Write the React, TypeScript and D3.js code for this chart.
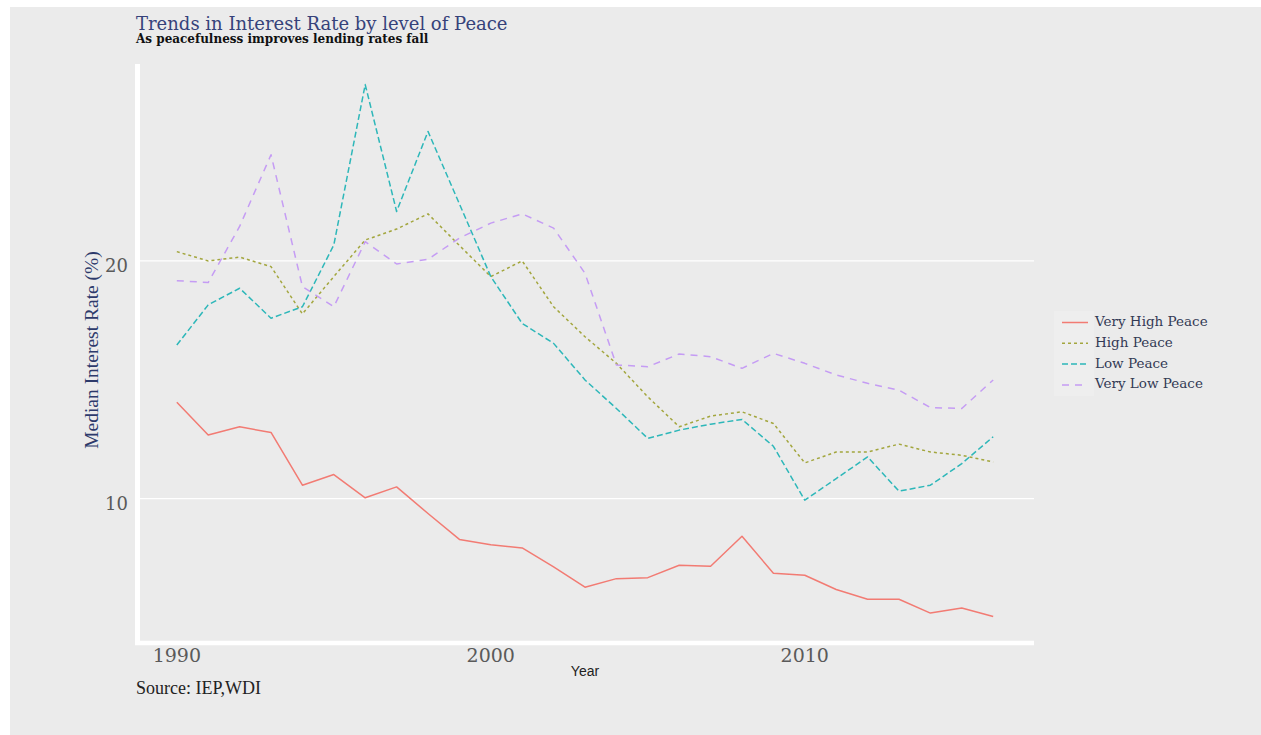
import React from "react";
import * as d3 from "d3";

const years = [1990, 1991, 1992, 1993, 1994, 1995, 1996, 1997, 1998, 1999, 2000, 2001, 2002, 2003, 2004, 2005, 2006, 2007, 2008, 2009, 2010, 2011, 2012, 2013, 2014, 2015, 2016];

const veryHighPeace = [14.05, 12.67, 13.02, 12.78, 10.56, 11.01, 10.03, 10.49, 9.37, 8.28, 8.06, 7.92, 7.12, 6.27, 6.63, 6.67, 7.19, 7.15, 8.41, 6.86, 6.77, 6.17, 5.76, 5.76, 5.18, 5.39, 5.04];
const highPeace = [20.39, 20.0, 20.16, 19.76, 17.77, 19.34, 20.88, 21.34, 21.98, 20.65, 19.34, 20.0, 18.07, 16.81, 15.69, 14.28, 13.02, 13.47, 13.65, 13.16, 11.5, 11.96, 11.96, 12.29, 11.96, 11.82, 11.54];
const lowPeace = [16.46, 18.15, 18.85, 17.59, 18.07, 20.67, 27.42, 22.08, 25.45, 22.4, 19.34, 17.37, 16.53, 14.99, 13.79, 12.53, 12.88, 13.13, 13.33, 12.2, 9.93, 10.84, 11.75, 10.31, 10.56, 11.47, 12.6];
const veryLowPeace = [19.17, 19.09, 21.45, 24.47, 18.92, 18.07, 20.81, 19.87, 20.07, 20.96, 21.59, 21.98, 21.38, 19.48, 15.62, 15.55, 16.08, 15.97, 15.48, 16.11, 15.69, 15.2, 14.85, 14.56, 13.83, 13.79, 14.99];

const seriesNames = ["Very High Peace", "High Peace", "Low Peace", "Very Low Peace"];
const seriesColors = ["#f27b73", "#a3a63e", "#2db7b9", "#c59cf4"];
const seriesDash = ["", "3,3", "6,3", "7,6"];

const xTicks = [1990, 2000, 2010];
const yTicks = [10, 20];

const W = 1261;
const H = 735;
const panel = { left: 136, right: 1034, top: 58, bottom: 643 };

export default function App() {
  const allSeries = [veryHighPeace, highPeace, lowPeace, veryLowPeace];
  const allVals = allSeries.flat();
  const [vMin, vMax] = d3.extent(allVals) as [number, number];
  const vPad = (vMax - vMin) * 0.05;
  const [yr0, yr1] = d3.extent(years) as [number, number];
  const xPad = (yr1 - yr0) * 0.05;

  const x = d3.scaleLinear().domain([yr0 - xPad, yr1 + xPad]).range([panel.left, panel.right]);
  const y = d3.scaleLinear().domain([vMin - vPad, vMax + vPad]).range([panel.bottom, panel.top]);

  const line = d3
    .line<number>()
    .x((_, i) => x(years[i]))
    .y((d) => y(d));

  const serif = "'DejaVu Serif', serif";
  const legendX = 1062;
  const legendY0 = 322.5;
  const legendStep = 20.8;

  return (
    <svg
      width={W}
      height={H}
      style={{ position: "absolute", left: 0, top: 0, display: "block" }}
    >
      <rect x={0} y={0} width={W} height={H} fill="#ffffff" />
      <rect x={10} y={7} width={W - 10} height={H - 7} fill="#ebebeb" />

      {/* gridlines */}
      {yTicks.map((t) => (
        <line
          key={"g" + t}
          x1={panel.left}
          x2={panel.right}
          y1={y(t)}
          y2={y(t)}
          stroke="#ffffff"
          strokeWidth={1.3}
        />
      ))}

      {/* axis lines */}
      <line x1={137.5} x2={137.5} y1={64} y2={645} stroke="#ffffff" strokeWidth={5} />
      <line x1={135} x2={panel.right} y1={643} y2={643} stroke="#ffffff" strokeWidth={4.5} />

      {/* series */}
      {allSeries.map((s, i) => (
        <path
          key={seriesNames[i]}
          d={line(s) || ""}
          fill="none"
          stroke={seriesColors[i]}
          strokeWidth={1.5}
          strokeDasharray={seriesDash[i] || undefined}
          strokeLinejoin="round"
        />
      ))}

      {/* y tick labels */}
      {yTicks.map((t) => (
        <text
          key={"yt" + t}
          x={128}
          y={y(t) + 6}
          textAnchor="end"
          dominantBaseline="middle"
          fontFamily={serif}
          fontSize={18}
          fill="#5a5a5a"
        >
          {t}
        </text>
      ))}

      {/* x tick labels */}
      {xTicks.map((t) => (
        <text
          key={"xt" + t}
          x={x(t)}
          y={662}
          textAnchor="middle"
          fontFamily={serif}
          fontSize={19}
          fill="#5a5a5a"
        >
          {t}
        </text>
      ))}

      {/* axis titles */}
      <text
        x={585}
        y={676}
        textAnchor="middle"
        fontFamily="'Liberation Sans', Arial, sans-serif"
        fontSize={14}
        fill="#222"
      >
        Year
      </text>
      <text
        transform="translate(98,350) rotate(-90)"
        textAnchor="middle"
        fontFamily="'Liberation Serif', serif"
        fontSize={19.5}
        fill="#2d3a6b"
      >
        Median Interest Rate (%)
      </text>

      {/* title */}
      <text x={136} y={30} fontFamily={serif} fontSize={18} fill="#36427a">
        Trends in Interest Rate by level of Peace
      </text>
      <text x={136} y={43} fontFamily={serif} fontSize={12} fontWeight="bold" fill="#111">
        As peacefulness improves lending rates fall
      </text>

      {/* caption */}
      <text x={136} y={694} fontFamily="'Liberation Serif', serif" fontSize={18} fill="#222">
        Source: IEP,WDI
      </text>

      {/* legend */}
      <rect x={1054} y={311} width={40} height={85} fill="#eeeeee" />
      {seriesNames.map((n, i) => {
        const ly = legendY0 + i * legendStep;
        return (
          <g key={"lg" + n}>
            <line
              x1={legendX}
              x2={legendX + 26}
              y1={ly}
              y2={ly}
              stroke={seriesColors[i]}
              strokeWidth={1.5}
              strokeDasharray={seriesDash[i] || undefined}
            />
            <text
              x={1095}
              y={ly}
              dominantBaseline="middle"
              fontFamily={serif}
              fontSize={13.5}
              fill="#333a55"
            >
              {n}
            </text>
          </g>
        );
      })}
    </svg>
  );
}
